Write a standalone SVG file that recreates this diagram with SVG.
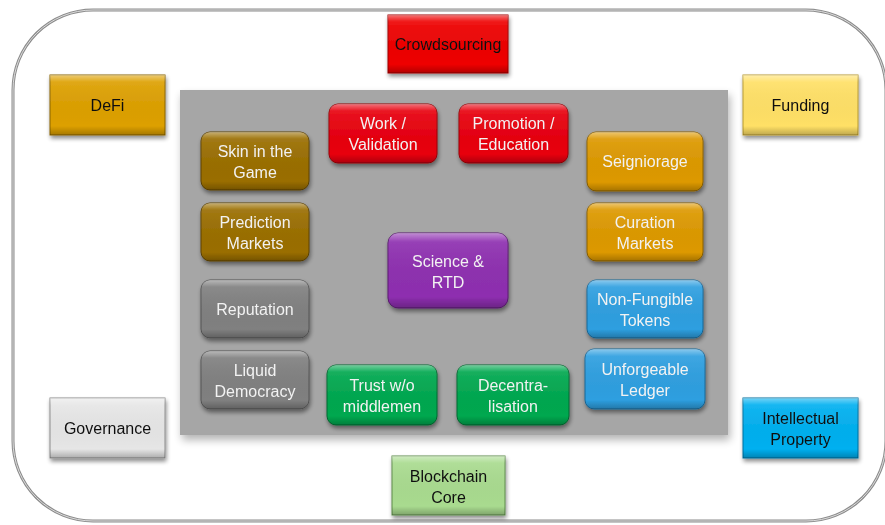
<svg xmlns="http://www.w3.org/2000/svg" width="885" height="525" viewBox="0 0 885 525">
<defs>
<linearGradient id="gloss" x1="0" y1="0" x2="0" y2="1">
<stop offset="0" stop-color="#fff" stop-opacity="0.45"/>
<stop offset="0.12" stop-color="#fff" stop-opacity="0.08"/>
<stop offset="0.85" stop-color="#000" stop-opacity="0"/>
<stop offset="1" stop-color="#000" stop-opacity="0.25"/>
</linearGradient>
<filter id="sh" x="-20%" y="-20%" width="140%" height="150%">
<feGaussianBlur in="SourceAlpha" stdDeviation="2"/>
<feOffset dx="1" dy="3" result="b"/>
<feComponentTransfer><feFuncA type="linear" slope="0.45"/></feComponentTransfer>
<feMerge><feMergeNode/><feMergeNode in="SourceGraphic"/></feMerge>
</filter>
<filter id="psh" x="-10%" y="-10%" width="120%" height="125%">
<feGaussianBlur in="SourceAlpha" stdDeviation="4"/>
<feOffset dx="2" dy="5"/>
<feComponentTransfer><feFuncA type="linear" slope="0.3"/></feComponentTransfer>
<feMerge><feMergeNode/><feMergeNode in="SourceGraphic"/></feMerge>
</filter>
</defs>
<style>
text{font-family:"Liberation Sans",Arial,sans-serif;font-size:16px;text-anchor:middle}
.in{fill:#f2f2f2}
.out{fill:#111}
.n{filter:url(#sh)}
.g{fill:url(#gloss)}
</style>
<rect width="885" height="525" fill="#fff"/>
<g id="frame">
<rect x="13" y="10" width="873" height="511" rx="80" ry="80" fill="none" stroke="#8c8c8c" stroke-width="3"/>
<rect x="13" y="10" width="873" height="511" rx="80" ry="80" fill="none" stroke="#dcdcdc" stroke-width="1"/>
</g>
<g id="panel"><rect x="180" y="90" width="548" height="345" fill="#a6a6a6" filter="url(#psh)"/></g>
<g id="connectors"></g>

<g id="crowdsourcing" class="n"><rect x="388" y="15" width="120" height="58" fill="#ee0000" stroke="#a00000" stroke-width="1"/><rect x="388" y="15" width="120" height="58" class="g"/><text x="448" y="50" class="out">Crowdsourcing</text></g>
<g id="defi" class="n"><rect x="50" y="75" width="115" height="60" fill="#dda000" stroke="#8a6400" stroke-width="1"/><rect x="50" y="75" width="115" height="60" class="g"/><text x="107.5" y="111" class="out">DeFi</text></g>
<g id="funding" class="n"><rect x="743" y="75" width="115" height="60" fill="#ffe066" stroke="#b89a30" stroke-width="1"/><rect x="743" y="75" width="115" height="60" class="g"/><text x="800.5" y="111" class="out">Funding</text></g>
<g id="governance" class="n"><rect x="50" y="398" width="115" height="60" fill="#e6e6e6" stroke="#8c8c8c" stroke-width="1"/><rect x="50" y="398" width="115" height="60" class="g"/><text x="107.5" y="434" class="out">Governance</text></g>
<g id="ip" class="n"><rect x="743" y="398" width="115" height="60" fill="#00b0f0" stroke="#0070a0" stroke-width="1"/><rect x="743" y="398" width="115" height="60" class="g"/><text x="800.5" y="424" class="out">Intellectual</text><text x="800.5" y="445" class="out">Property</text></g>
<g id="blockchain" class="n"><rect x="392" y="456" width="113" height="59" fill="#a9db8f" stroke="#5e8c4a" stroke-width="1"/><rect x="392" y="456" width="113" height="59" class="g"/><text x="448.5" y="482" class="out">Blockchain</text><text x="448.5" y="503" class="out">Core</text></g>

<g id="skin" class="n"><rect x="201" y="132" width="108" height="58" rx="9" fill="#9a6e00" stroke="#5e4300"/><rect x="201" y="132" width="108" height="58" rx="9" class="g"/><text x="255" y="157" class="in">Skin in the</text><text x="255" y="178" class="in">Game</text></g>
<g id="prediction" class="n"><rect x="201" y="203" width="108" height="58" rx="9" fill="#9a6e00" stroke="#5e4300"/><rect x="201" y="203" width="108" height="58" rx="9" class="g"/><text x="255" y="228" class="in">Prediction</text><text x="255" y="249" class="in">Markets</text></g>
<g id="reputation" class="n"><rect x="201" y="280" width="108" height="58" rx="9" fill="#808080" stroke="#555"/><rect x="201" y="280" width="108" height="58" rx="9" class="g"/><text x="255" y="315" class="in">Reputation</text></g>
<g id="liquid" class="n"><rect x="201" y="351" width="108" height="58" rx="9" fill="#808080" stroke="#555"/><rect x="201" y="351" width="108" height="58" rx="9" class="g"/><text x="255" y="376" class="in">Liquid</text><text x="255" y="397" class="in">Democracy</text></g>
<g id="work" class="n"><rect x="329" y="104" width="108" height="59" rx="9" fill="#e8000e" stroke="#990008"/><rect x="329" y="104" width="108" height="59" rx="9" class="g"/><text x="383" y="129" class="in">Work /</text><text x="383" y="150" class="in">Validation</text></g>
<g id="promotion" class="n"><rect x="459" y="104" width="109" height="59" rx="9" fill="#e8000e" stroke="#990008"/><rect x="459" y="104" width="109" height="59" rx="9" class="g"/><text x="513.5" y="129" class="in">Promotion /</text><text x="513.5" y="150" class="in">Education</text></g>
<g id="science" class="n"><rect x="388" y="233" width="120" height="75" rx="10" fill="#8e2fb0" stroke="#5a1c70"/><rect x="388" y="233" width="120" height="75" rx="10" class="g"/><text x="448" y="267" class="in">Science &amp;</text><text x="448" y="288" class="in">RTD</text></g>
<g id="trust" class="n"><rect x="327" y="365" width="110" height="60" rx="9" fill="#00a84f" stroke="#006a30"/><rect x="327" y="365" width="110" height="60" rx="9" class="g"/><text x="382" y="391" class="in">Trust w/o</text><text x="382" y="412" class="in">middlemen</text></g>
<g id="decentralisation" class="n"><rect x="457" y="365" width="112" height="60" rx="9" fill="#00a84f" stroke="#006a30"/><rect x="457" y="365" width="112" height="60" rx="9" class="g"/><text x="513" y="391" class="in">Decentra-</text><text x="513" y="412" class="in">lisation</text></g>
<g id="seigniorage" class="n"><rect x="587" y="132" width="116" height="59" rx="9" fill="#dd9900" stroke="#8a6000"/><rect x="587" y="132" width="116" height="59" rx="9" class="g"/><text x="645" y="167" class="in">Seigniorage</text></g>
<g id="curation" class="n"><rect x="587" y="203" width="116" height="58" rx="9" fill="#dd9900" stroke="#8a6000"/><rect x="587" y="203" width="116" height="58" rx="9" class="g"/><text x="645" y="228" class="in">Curation</text><text x="645" y="249" class="in">Markets</text></g>
<g id="nft" class="n"><rect x="587" y="280" width="116" height="58" rx="9" fill="#2e9fe0" stroke="#1a6898"/><rect x="587" y="280" width="116" height="58" rx="9" class="g"/><text x="645" y="305" class="in">Non-Fungible</text><text x="645" y="326" class="in">Tokens</text></g>
<g id="ledger" class="n"><rect x="585" y="349" width="120" height="60" rx="9" fill="#2e9fe0" stroke="#1a6898"/><rect x="585" y="349" width="120" height="60" rx="9" class="g"/><text x="645" y="375" class="in">Unforgeable</text><text x="645" y="396" class="in">Ledger</text></g>
</svg>
